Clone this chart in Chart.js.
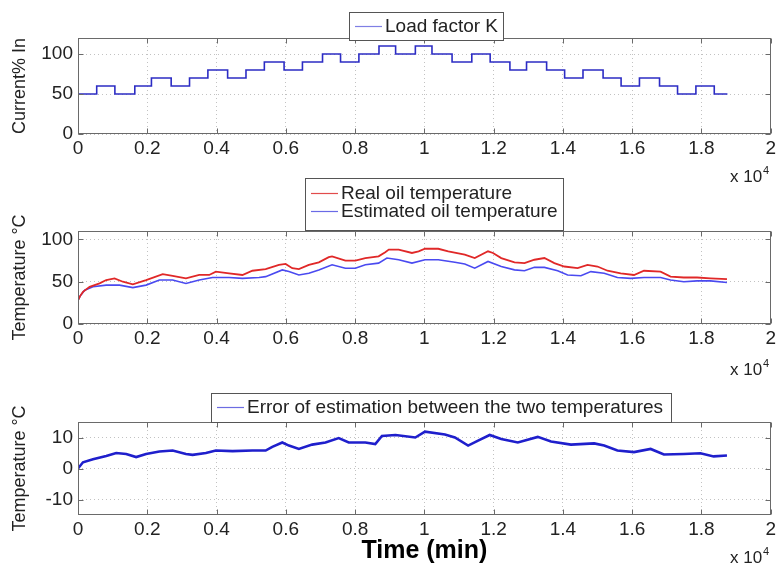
<!DOCTYPE html>
<html>
<head>
<meta charset="utf-8">
<script src="https://cdn.jsdelivr.net/npm/chart.js@4.4.1/dist/chart.umd.min.js"></script>
<style>
  body { margin: 0; background: #fff; }
  canvas { position: absolute; left: 0; }
</style>
</head>
<body>
<canvas id="c1" width="779" height="190" style="top:0"></canvas>
<canvas id="c2" width="779" height="215" style="top:170px"></canvas>
<canvas id="c3" width="779" height="187" style="top:380px"></canvas>
<script>
// shared x axis (minutes)
const xTicks = [0, 2000, 4000, 6000, 8000, 10000, 12000, 14000, 16000, 18000, 20000];
const xTickLabels = ['0', '0.2', '0.4', '0.6', '0.8', '1', '1.2', '1.4', '1.6', '1.8', '2'];

// load factor K, step starts (min) and levels (% In)
const loadTime = [0, 540, 1065, 1640, 2120, 2690, 3220, 3750, 4320, 4850, 5380, 5950, 6480, 7060,
  7580, 8110, 8690, 9170, 9740, 10220, 10800, 11370, 11900, 12470, 12950, 13530, 14050, 14580,
  15160, 15680, 16210, 16790, 17310, 17840, 18370, 18750];
const loadLevel = [50, 60, 50, 60, 70, 60, 70, 80, 70, 80, 90, 80, 90, 100, 90, 100, 110, 100, 110,
  100, 90, 100, 90, 80, 90, 80, 70, 80, 70, 60, 70, 60, 50, 60, 50, 50];
const loadTicks = [0, 50, 100];

// oil temperatures
const realTime = [0, 60, 144, 336, 623, 815, 1055, 1295, 1583, 1966, 2446, 2733, 3117, 3500, 3788,
  3980, 4363, 4747, 5035, 5418, 5802, 5994, 6186, 6377, 6665, 6953, 7240, 7336, 7720, 8008, 8296,
  8679, 8871, 8973, 9259, 9642, 9834, 10019, 10402, 10690, 11167, 11455, 11838, 11982, 12220,
  12603, 12891, 13178, 13466, 13753, 14040, 14424, 14711, 14999, 15287, 15670, 16053, 16341,
  16820, 17108, 17491, 17874, 18258, 18737];
const realTemp = [28, 33, 38, 44, 48, 52, 54, 50, 47, 52, 59, 57, 54, 58, 58, 62, 60, 58, 63, 65,
  70, 71, 66, 65, 70, 73, 79, 80, 75, 75, 78, 80, 85, 88, 88, 84, 86, 89, 89, 86, 82, 78, 86, 84,
  78, 73, 72, 76, 78, 72, 68, 66, 70, 68, 63, 60, 58, 63, 62, 56, 55, 55, 54, 53];
const estTime = [0, 60, 192, 432, 815, 1199, 1583, 1966, 2350, 2733, 3117, 3500, 3884, 4363, 4747,
  5227, 5418, 5898, 6090, 6377, 6665, 6953, 7336, 7720, 8008, 8296, 8679, 8919, 9259, 9642, 10019,
  10402, 10881, 11167, 11455, 11838, 12220, 12603, 12891, 13178, 13466, 13849, 14136, 14520,
  14807, 15191, 15574, 15958, 16341, 16820, 17108, 17491, 17874, 18258, 18737];
const estTemp = [28, 33, 40, 44, 46, 46, 43, 46, 52, 52, 48, 52, 55, 55, 54, 55, 56, 64, 62, 58,
  60, 64, 70, 66, 66, 70, 72, 78, 76, 72, 76, 76, 73, 71, 66, 74, 68, 64, 63, 67, 67, 63, 58, 57,
  62, 60, 55, 54, 55, 55, 52, 50, 51, 51, 49];
const tempTicks = [0, 50, 100];

// estimation error
const errTime = [0, 144, 432, 815, 1103, 1391, 1679, 1966, 2350, 2733, 3117, 3309, 3692, 3980,
  4460, 5035, 5418, 5610, 5898, 6090, 6377, 6761, 7145, 7528, 7816, 8296, 8583, 8775, 9166, 9738,
  10019, 10594, 10881, 11263, 11551, 11886, 12220, 12699, 13274, 13657, 14232, 14903, 15191,
  15574, 16053, 16533, 16916, 17491, 17970, 18354, 18737];
const errVal = [0, 2, 3, 4, 5, 4.7, 3.7, 4.7, 5.5, 5.8, 4.7, 4.4, 5, 5.8, 5.6, 5.8, 5.8, 7, 8.4,
  7.4, 6.3, 7.7, 8.4, 9.8, 8.4, 8.4, 7.9, 10.5, 10.8, 10, 11.9, 11, 10, 7.4, 9, 10.8, 9.5, 8.4,
  10.2, 8.7, 7.7, 8.1, 7.4, 5.8, 5.3, 6.3, 4.5, 4.7, 4.9, 3.9, 4.2];
const errTicks = [-10, 0, 10];

const FONT = "'Liberation Sans', Arial, sans-serif";
Chart.defaults.font.family = FONT;
Chart.defaults.color = '#222';

const pts = (xs, ys) => xs.map((x, i) => ({ x, y: ys[i] }));

// MATLAB-ish frame: box, inward ticks, x10^4 note, boxed legend
const mlPlugin = {
  id: 'ml',
  afterDatasetsDraw(chart, args, o) {
    const { ctx, chartArea: a, scales } = chart;
    const L = Math.round(a.left) + 0.5, R = Math.round(a.right) - 0.5;
    const T = Math.round(a.top) + 0.5, B = Math.round(a.bottom) - 0.5;
    ctx.save();
    ctx.strokeStyle = '#6a6a6a';
    ctx.lineWidth = 1;
    ctx.beginPath();
    scales.x.ticks.forEach(t => {
      const x = Math.round(scales.x.getPixelForValue(t.value)) + 0.5;
      ctx.moveTo(x, B); ctx.lineTo(x, B - 5);
      ctx.moveTo(x, T); ctx.lineTo(x, T + 5);
    });
    scales.y.ticks.forEach(t => {
      const y = Math.round(scales.y.getPixelForValue(t.value)) + 0.5;
      ctx.moveTo(L, y); ctx.lineTo(L + 5, y);
      ctx.moveTo(R, y); ctx.lineTo(R - 5, y);
    });
    ctx.stroke();
    ctx.strokeRect(L, T, R - L, B - T);

    // x 10^4
    ctx.fillStyle = '#222';
    ctx.textBaseline = 'alphabetic';
    ctx.textAlign = 'left';
    ctx.font = '17px ' + FONT;
    ctx.fillText('x 10', 730, o.expY);
    ctx.font = '11px ' + FONT;
    ctx.fillText('4', 763, o.expY - 8);

    // legend
    const lg = o.legend;
    ctx.fillStyle = '#fff';
    ctx.fillRect(lg.x, lg.y, lg.w, lg.h);
    ctx.strokeStyle = '#555';
    ctx.strokeRect(lg.x + 0.5, lg.y + 0.5, lg.w, lg.h);
    ctx.font = '19px ' + FONT;
    ctx.textBaseline = 'middle';
    chart.data.datasets.forEach((ds, i) => {
      const y = lg.rows[i];
      ctx.strokeStyle = lg.colors[i];
      ctx.lineWidth = 1.2;
      ctx.beginPath();
      ctx.moveTo(lg.x + 6, y + 0.5); ctx.lineTo(lg.x + 33, y + 0.5);
      ctx.stroke();
      ctx.fillStyle = '#222';
      ctx.fillText(ds.label, lg.x + 36, y + 1);
    });
    ctx.restore();
  }
};

function xScale(height, title) {
  return {
    type: 'linear', min: 0, max: 20000,
    afterBuildTicks: s => { s.ticks = xTicks.map(v => ({ value: v })); },
    afterFit: s => { s.height = height; },
    ticks: {
      callback: (v, i) => xTickLabels[i],
      padding: 3, maxRotation: 0, autoSkip: false,
      font: { size: 19 }, color: '#222',
    },
    grid: { color: '#c2c2c2', drawTicks: false },
    border: { display: false, dash: [1, 3] },
    title: title ? {
      display: true, text: title, color: '#000',
      font: { size: 25, weight: 'bold' }, padding: { top: 0, bottom: 1 },
    } : { display: false },
  };
}

function yScale(min, max, ticks, title) {
  return {
    min, max,
    afterBuildTicks: s => { s.ticks = ticks.map(v => ({ value: v })); },
    afterFit: s => { s.width = 78; },
    ticks: { padding: 5, font: { size: 19 }, color: '#222' },
    grid: { color: '#c2c2c2', drawTicks: false },
    border: { display: false, dash: [1, 3] },
    title: {
      display: true, text: title, color: '#222',
      font: { size: 18 }, padding: { top: 9, bottom: 0 },
    },
  };
}

function makeChart(id, datasets, yOpts, xOpts, padTop, ml) {
  return new Chart(document.getElementById(id), {
    type: 'line',
    data: { datasets },
    options: {
      responsive: false,
      animation: false,
      layout: { padding: { top: padTop, right: 6, left: 0, bottom: 0 } },
      elements: { point: { radius: 0 }, line: { tension: 0 } },
      plugins: { legend: { display: false }, tooltip: { enabled: false }, ml },
      scales: { x: xOpts, y: yOpts },
    },
    plugins: [mlPlugin],
  });
}

makeChart('c1', [{
  label: 'Load factor K',
  data: pts(loadTime, loadLevel),
  borderColor: '#2c2cc4', borderWidth: 1.6, stepped: true,
}], yScale(0, 120, loadTicks, 'Current% In'), xScale(56), 38, {
  expY: 182,
  legend: { x: 349, y: 12, w: 154, h: 28, rows: [26], colors: ['#7f7fe4'] },
});

makeChart('c2', [{
  label: 'Real oil temperature',
  data: pts(realTime, realTemp),
  borderColor: '#e02828', borderWidth: 1.8,
}, {
  label: 'Estimated oil temperature',
  data: pts(estTime, estTemp),
  borderColor: '#4a4af0', borderWidth: 1.6,
}], yScale(0, 110, tempTicks, 'Temperature °C'), xScale(61), 61, {
  expY: 205,
  legend: { x: 305, y: 8, w: 258, h: 52, rows: [23, 41], colors: ['#e24c4c', '#6a6ae6'] },
});

makeChart('c3', [{
  label: 'Error of estimation between the two temperatures',
  data: pts(errTime, errVal),
  borderColor: '#1f1fcc', borderWidth: 2.6,
}], yScale(-15, 15, errTicks, 'Temperature °C'), xScale(52, 'Time (min)'), 42, {
  expY: 183,
  legend: { x: 211, y: 13, w: 460, h: 29, rows: [27], colors: ['#6c6ce2'] },
});
</script>
</body>
</html>
